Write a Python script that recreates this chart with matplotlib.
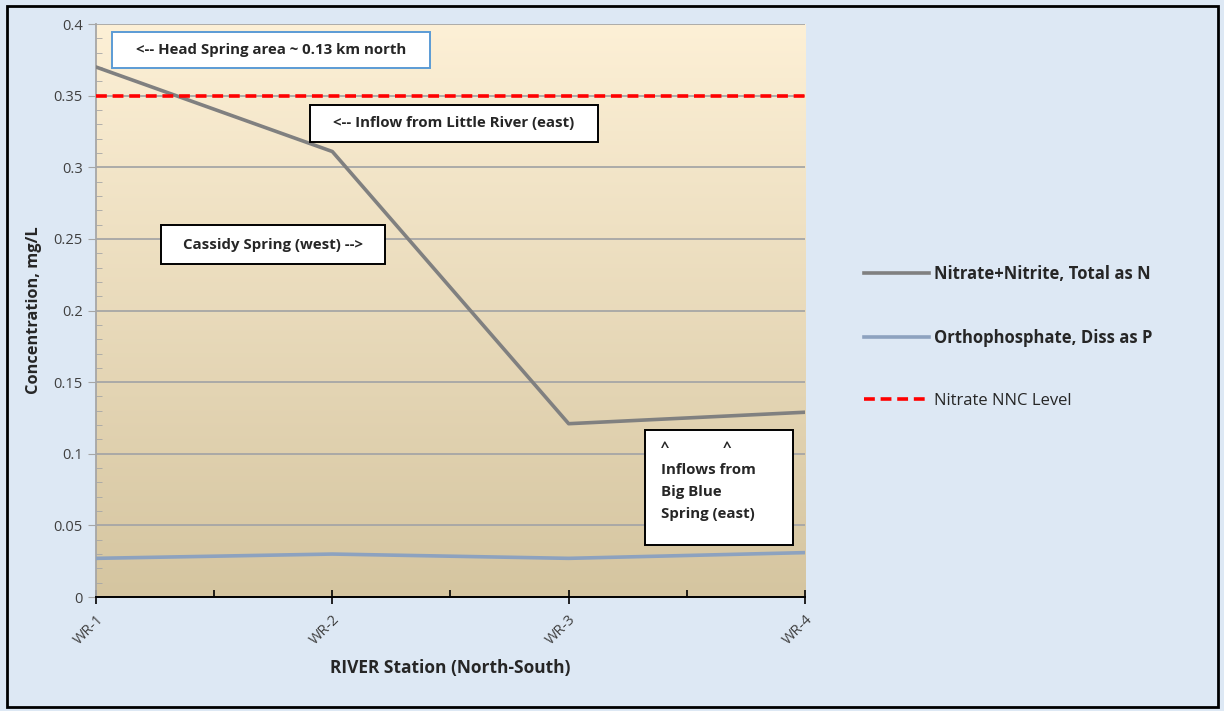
import numpy as np
import matplotlib

matplotlib.use("Agg")
import matplotlib.pyplot as plt
from matplotlib.patches import Rectangle

plt.rcParams["font.family"] = ["Open Sans", "DejaVu Sans"]

# data
stations = ["WR-1", "WR-2", "WR-3", "WR-4"]
nitrate = [0.370, 0.311, 0.121, 0.129]
orthophosphate = [0.027, 0.030, 0.027, 0.031]
nnc_level = 0.35
y_ticks = [0, 0.05, 0.1, 0.15, 0.2, 0.25, 0.3, 0.35, 0.4]
y_tick_labels = ["0", "0.05", "0.1", "0.15", "0.2", "0.25", "0.3", "0.35", "0.4"]

fig = plt.figure(figsize=(12.24, 7.11), dpi=100, facecolor="#dde8f4")
ax = fig.add_axes([0.0784, 0.1603, 0.5793, 0.8059])

# gradient plot background (light cream at top, tan at bottom)
top = np.array([253, 240, 214]) / 255
bottom = np.array([213, 197, 160]) / 255
t = np.linspace(0, 1, 256)[:, None]
grad = (top * (1 - t) + bottom * t)[:, None, :]
ax.imshow(grad, extent=[0, 1, 0, 1], transform=ax.transAxes, aspect="auto", zorder=0)

x = np.arange(len(stations))
ax.plot(x, nitrate, color="#808080", lw=2.6, zorder=3, label="Nitrate+Nitrite, Total as N")
ax.plot(x, orthophosphate, color="#8da2bf", lw=2.6, zorder=3, label="Orthophosphate, Diss as P")
ax.axhline(nnc_level, color="#ff0000", lw=2.6, ls=(0, (3, 1.6)), zorder=4, label="Nitrate NNC Level")

ax.set_xlim(0, len(stations) - 1)
ax.set_ylim(0, 0.4)
ax.set_yticks(y_ticks)
ax.set_yticklabels(y_tick_labels)
ax.set_yticks(np.arange(0, 0.401, 0.01), minor=True)
ax.set_xticks(x)
ax.set_xticklabels(stations, rotation=45, ha="right", va="top", rotation_mode="anchor")
ax.set_xticks(x[:-1] + 0.5, minor=True)
ax.grid(axis="y", color="#a6a6a6", lw=1.3, zorder=1)
ax.set_axisbelow(True)

ax.tick_params(axis="y", which="major", direction="out", length=6, color="#a6a6a6", labelsize=10.5, labelcolor="#404040")
ax.tick_params(axis="y", which="minor", direction="in", length=4, color="#a6a6a6")
ax.tick_params(axis="x", which="major", direction="inout", length=10, width=1.2, color="black", labelsize=10.5, labelcolor="#404040", pad=6)
ax.tick_params(axis="x", which="minor", direction="in", length=5, width=1.2, color="black")
for side in ["top", "right"]:
    ax.spines[side].set_visible(False)
ax.spines["left"].set_color("#a6a6a6")
ax.spines["left"].set_linewidth(1.3)
ax.spines["bottom"].set_color("black")
ax.spines["bottom"].set_linewidth(1.4)

ax.set_ylabel("Concentration, mg/L", fontsize=11.8, fontweight="bold", color="#262626", labelpad=8)
ax.set_xlabel("RIVER Station (North-South)", fontsize=12.5, fontweight="bold", color="#262626", labelpad=8)

# annotation boxes (axes fractions)
txt_kw = dict(fontsize=10.8, fontweight="bold", color="#262626", transform=ax.transAxes, zorder=7)
boxes = [
    ((0.0226, 0.923), 0.449, 0.063, "#5b9bd5"),
    ((0.302, 0.794), 0.406, 0.065, "black"),
    ((0.0917, 0.581), 0.316, 0.068, "black"),
    ((0.774, 0.091), 0.209, 0.201, "black"),
]
for (bx, by), bw, bh, ec in boxes:
    ax.add_patch(Rectangle((bx, by), bw, bh, transform=ax.transAxes, fc="white", ec=ec,
                           lw=1.4, zorder=6))
ax.text(0.2465, 0.9545, "<-- Head Spring area ~ 0.13 km north", ha="center", va="center", **txt_kw)
ax.text(0.505, 0.8265, "<-- Inflow from Little River (east)", ha="center", va="center", **txt_kw)
ax.text(0.250, 0.615, "Cassidy Spring (west) -->", ha="center", va="center", **txt_kw)
ax.text(0.797, 0.2025, "^              ^\nInflows from\nBig Blue\nSpring (east)", ha="left", va="center",
        linespacing=1.75, **txt_kw)

leg = fig.legend(loc="center left", bbox_to_anchor=(0.6935, 0.526), frameon=False, fontsize=12,
                 handlelength=3.9, handletextpad=0.3, labelspacing=2.75, labelcolor="#262626")
for txt, wt in zip(leg.get_texts(), ["bold", "bold", "normal"]):
    txt.set_fontweight(wt)

# outer chart border
fig.patches.append(Rectangle((0.006, 0.006), 0.989, 0.986, transform=fig.transFigure,
                             fill=False, ec="black", lw=2.0))

fig.savefig("out.png", dpi=100, facecolor=fig.get_facecolor())
